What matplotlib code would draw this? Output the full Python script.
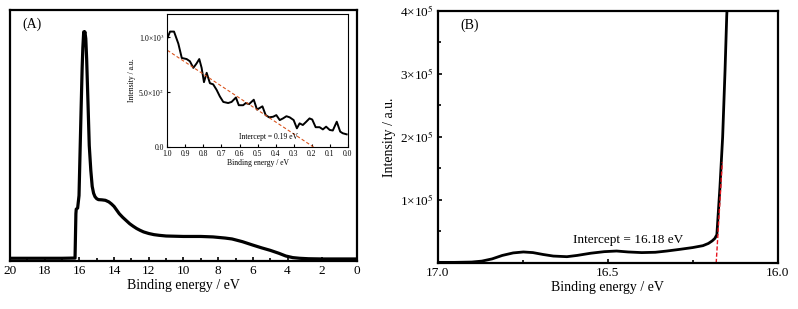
import matplotlib
matplotlib.use("Agg")
import matplotlib.pyplot as plt
from matplotlib.ticker import MultipleLocator, FixedLocator, FixedFormatter

plt.rcParams['font.family'] = ['Liberation Serif', 'DejaVu Serif']
plt.rcParams['mathtext.fontset'] = 'stix'

# ---- Panel A: full UPS spectrum (normalised intensity) ----
a_energy = [20.0, 18.0, 17.0, 16.25, 16.2, 16.18, 16.1, 16.02, 15.97, 15.9, 15.84, 15.8, 15.75, 15.72,
            15.68, 15.63, 15.58, 15.5, 15.43, 15.34, 15.26, 15.18, 15.1, 15.0, 14.9, 14.7, 14.5,
            14.3, 14.15, 14.0, 13.85, 13.7, 13.5, 13.3, 13.1, 12.9, 12.7, 12.5, 12.3, 12.0, 11.7,
            11.4, 11.0, 10.5, 10.0, 9.0, 8.3, 7.6, 7.2, 6.6, 6.0, 5.5, 5.0, 4.5, 4.1, 3.7, 3.3, 2.8,
            2.0, 1.0, 0.0]
a_intensity = [0.004, 0.004, 0.004, 0.005, 0.20, 0.22, 0.225, 0.28, 0.44, 0.66, 0.84, 0.93, 1.0, 0.99,
               1.0, 0.97, 0.88, 0.68, 0.50, 0.39, 0.32, 0.29, 0.275, 0.266, 0.262, 0.261, 0.259,
               0.252, 0.243, 0.232, 0.216, 0.20, 0.184, 0.17, 0.156, 0.145, 0.135, 0.127, 0.12, 0.113,
               0.108, 0.105, 0.102, 0.101, 0.100, 0.100, 0.098, 0.093, 0.089, 0.077, 0.062, 0.050,
               0.039, 0.026, 0.014, 0.007, 0.004, 0.002, 0.001, 0.001, 0.001]

# ---- Inset: 0-1 eV region (units of 1e3) ----
in_energy = [1.0, 0.985, 0.963, 0.939, 0.92, 0.893, 0.875, 0.856, 0.838, 0.823, 0.81, 0.797, 0.782,
             0.764, 0.746, 0.727, 0.709, 0.69, 0.663, 0.644, 0.62, 0.604, 0.58, 0.565, 0.547, 0.521,
             0.503, 0.473, 0.455, 0.436, 0.414, 0.396, 0.377, 0.359, 0.34, 0.322, 0.30, 0.282, 0.267,
             0.249, 0.23, 0.212, 0.197, 0.178, 0.156, 0.138, 0.12, 0.10, 0.083, 0.061, 0.042, 0.028, 0.006]
in_intensity = [0.99, 1.05, 1.05, 0.94, 0.81, 0.80, 0.78, 0.72, 0.76, 0.80, 0.72, 0.59, 0.675,
                0.58, 0.57, 0.52, 0.46, 0.41, 0.40, 0.41, 0.45, 0.38, 0.38, 0.40, 0.39, 0.43,
                0.34, 0.37, 0.29, 0.27, 0.275, 0.29, 0.245, 0.26, 0.28, 0.27, 0.245, 0.17, 0.215,
                0.20, 0.23, 0.26, 0.25, 0.18, 0.18, 0.16, 0.185, 0.155, 0.15, 0.23, 0.14, 0.125, 0.115]
in_fit_energy = [1.0, 0.19]
in_fit_intensity = [0.88, 0.0]

# ---- Panel B: cutoff region ----
b_energy = [17.0, 16.95, 16.9, 16.87, 16.84, 16.81, 16.778, 16.748, 16.72, 16.69, 16.66, 16.62,
            16.59, 16.55, 16.51, 16.474, 16.44, 16.4, 16.36, 16.326, 16.29, 16.25, 16.22, 16.204,
            16.193, 16.185, 16.179, 16.17, 16.162, 16.155, 16.15, 16.145]
b_intensity = [1e3, 1e3, 1.5e3, 3e3, 6.5e3, 1.2e4, 1.6e4, 1.75e4, 1.65e4, 1.35e4, 1.1e4, 1.0e4,
               1.2e4, 1.55e4, 1.8e4, 1.9e4, 1.75e4, 1.65e4, 1.7e4, 1.9e4, 2.15e4, 2.45e4, 2.75e4,
               3.1e4, 3.5e4, 3.9e4, 4.5e4, 1.2e5, 2.0e5, 3.05e5, 3.92e5, 4.5e5]
b_fit_energy = [16.181, 16.163]
b_fit_intensity = [0.0, 1.6e5]

fig = plt.figure(figsize=(7.98, 3.09), dpi=100)

# Panel A
axA = fig.add_axes([0.0125, 0.1553, 0.4348, 0.8123])
axA.plot(a_energy, a_intensity, color='black', lw=2.3, solid_joinstyle='round')
axA.set_xlim(20, 0)
axA.set_ylim(-0.008, 1.096)
axA.xaxis.set_major_locator(MultipleLocator(2))
axA.xaxis.set_minor_locator(MultipleLocator(1))
axA.set_yticks([])
axA.tick_params(axis='x', which='both', direction='in', labelsize=9.5, pad=3, width=1.2)
axA.tick_params(axis='x', which='major', length=3)
axA.tick_params(axis='x', which='minor', length=2)
for s in axA.spines.values():
    s.set_linewidth(1.6)
axA.set_xlabel('Binding energy / eV', fontsize=10, labelpad=1)
axA.text(0.035, 0.945, '(A)', transform=axA.transAxes, fontsize=10, ha='left', va='center')

# Inset
axI = fig.add_axes([0.2097, 0.5243, 0.2261, 0.4304])
axI.plot(in_energy, in_intensity, color='black', lw=1.4)
axI.plot(in_fit_energy, in_fit_intensity, color='#d9541e', lw=0.8, ls=(0, (3, 2)))
axI.set_xlim(1.0, 0.0)
axI.set_ylim(0, 1.21)
axI.xaxis.set_major_locator(MultipleLocator(0.1))
axI.xaxis.set_major_formatter(matplotlib.ticker.FormatStrFormatter('%.1f'))
axI.yaxis.set_major_locator(FixedLocator([0.0, 0.5, 1.0]))
axI.yaxis.set_major_formatter(FixedFormatter(['0.0', '5.0×10$^2$', '1.0×10$^3$']))
axI.tick_params(axis='both', which='both', direction='in', labelsize=5.5, length=2, width=0.8, pad=2)
for s in axI.spines.values():
    s.set_linewidth(0.8)
axI.set_xlabel('Binding energy / eV', fontsize=5.5, labelpad=1)
axI.set_ylabel('Intensity / a.u.', fontsize=5.5, labelpad=2)
axI.text(0.44, 0.09, 'Intercept = 0.19 eV', fontsize=5.5, ha='center', va='center')

# Panel B
axB = fig.add_axes([0.5485, 0.1489, 0.4261, 0.8155])
axB.plot(b_energy, b_intensity, color='black', lw=2.0, solid_joinstyle='round')
axB.plot(b_fit_energy, b_fit_intensity, color='#e8141e', lw=1.0, ls=(0, (3, 1.5)))
axB.set_xlim(17.0, 16.0)
axB.set_ylim(0, 4e5)
axB.xaxis.set_major_locator(FixedLocator([17.0, 16.5, 16.0]))
axB.xaxis.set_major_formatter(matplotlib.ticker.FormatStrFormatter('%.1f'))
axB.xaxis.set_minor_locator(MultipleLocator(0.25))
axB.yaxis.set_major_locator(FixedLocator([1e5, 2e5, 3e5, 4e5]))
axB.yaxis.set_major_formatter(FixedFormatter(['1×10$^5$', '2×10$^5$', '3×10$^5$', '4×10$^5$']))
axB.yaxis.set_minor_locator(MultipleLocator(5e4))
axB.tick_params(axis='both', which='both', direction='in', labelsize=9.5, width=1.2, pad=3)
axB.tick_params(axis='both', which='major', length=3)
axB.tick_params(axis='both', which='minor', length=2)
for s in axB.spines.values():
    s.set_linewidth(1.6)
axB.set_xlabel('Binding energy / eV', fontsize=10, labelpad=1)
axB.set_ylabel('Intensity / a.u.', fontsize=10, labelpad=3)
axB.text(0.068, 0.945, '(B)', transform=axB.transAxes, fontsize=10, ha='left', va='center')
axB.text(16.44, 3.65e4, 'Intercept = 16.18 eV', fontsize=9.5, ha='center', va='center')

fig.savefig('out.png', dpi=100)
